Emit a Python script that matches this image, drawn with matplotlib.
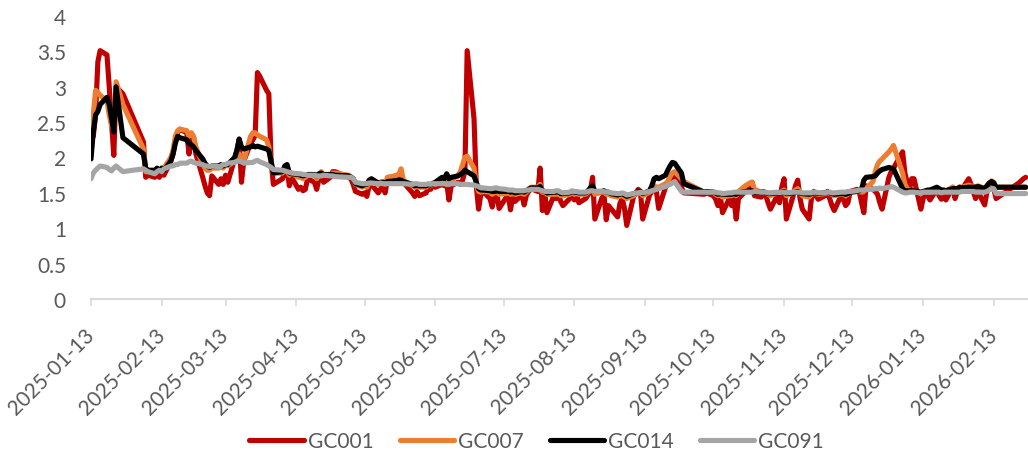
import matplotlib
matplotlib.use('Agg')
import matplotlib.pyplot as plt
import matplotlib.dates as mdates
from matplotlib.ticker import FuncFormatter
import pandas as pd

dates = [
    # Jan - Feb 2025
    '2025-01-13', '2025-01-14', '2025-01-15', '2025-01-16', '2025-01-17', '2025-01-20',
    '2025-01-21', '2025-01-22', '2025-01-23', '2025-01-24', '2025-01-27', '2025-02-05',
    '2025-02-06', '2025-02-07', '2025-02-10', '2025-02-11', '2025-02-12', '2025-02-13',
    '2025-02-14', '2025-02-17', '2025-02-18', '2025-02-19', '2025-02-20', '2025-02-21',
    '2025-02-24', '2025-02-25', '2025-02-26', '2025-02-27', '2025-02-28',
    # Mar - Apr
    '2025-03-03', '2025-03-04', '2025-03-05', '2025-03-06', '2025-03-07', '2025-03-10',
    '2025-03-11', '2025-03-12', '2025-03-13', '2025-03-14', '2025-03-17', '2025-03-18',
    '2025-03-19', '2025-03-20', '2025-03-21', '2025-03-24', '2025-03-25', '2025-03-26',
    '2025-03-27', '2025-03-28', '2025-03-31', '2025-04-01', '2025-04-02', '2025-04-03',
    '2025-04-07', '2025-04-08', '2025-04-09', '2025-04-10', '2025-04-11', '2025-04-14',
    '2025-04-15', '2025-04-16', '2025-04-17', '2025-04-18', '2025-04-21', '2025-04-22',
    '2025-04-23', '2025-04-24', '2025-04-25', '2025-04-28', '2025-04-29', '2025-04-30',
    # May - Jun
    '2025-05-06', '2025-05-07', '2025-05-08', '2025-05-09', '2025-05-12', '2025-05-13',
    '2025-05-14', '2025-05-15', '2025-05-16', '2025-05-19', '2025-05-20', '2025-05-21',
    '2025-05-22', '2025-05-23', '2025-05-26', '2025-05-27', '2025-05-28', '2025-05-29',
    '2025-05-30', '2025-06-03', '2025-06-04', '2025-06-05', '2025-06-06', '2025-06-09',
    '2025-06-10', '2025-06-11', '2025-06-12', '2025-06-13', '2025-06-16', '2025-06-17',
    '2025-06-18', '2025-06-19', '2025-06-20', '2025-06-23', '2025-06-24', '2025-06-25',
    '2025-06-26', '2025-06-27', '2025-06-30',
    # Jul - Aug
    '2025-07-01', '2025-07-02', '2025-07-03', '2025-07-04', '2025-07-07', '2025-07-08',
    '2025-07-09', '2025-07-10', '2025-07-11', '2025-07-14', '2025-07-15', '2025-07-16',
    '2025-07-17', '2025-07-18', '2025-07-21', '2025-07-22', '2025-07-23', '2025-07-24',
    '2025-07-25', '2025-07-28', '2025-07-29', '2025-07-30', '2025-07-31', '2025-08-01',
    '2025-08-04', '2025-08-05', '2025-08-06', '2025-08-07', '2025-08-08', '2025-08-11',
    '2025-08-12', '2025-08-13', '2025-08-14', '2025-08-15', '2025-08-18', '2025-08-19',
    '2025-08-20', '2025-08-21', '2025-08-22', '2025-08-25', '2025-08-26', '2025-08-27',
    '2025-08-28', '2025-08-29',
    # Sep - Oct
    '2025-09-01', '2025-09-02', '2025-09-03', '2025-09-04', '2025-09-05', '2025-09-08',
    '2025-09-09', '2025-09-10', '2025-09-11', '2025-09-12', '2025-09-15', '2025-09-16',
    '2025-09-17', '2025-09-18', '2025-09-19', '2025-09-22', '2025-09-23', '2025-09-24',
    '2025-09-25', '2025-09-26', '2025-09-29', '2025-09-30', '2025-10-09', '2025-10-10',
    '2025-10-13', '2025-10-14', '2025-10-15', '2025-10-16', '2025-10-17', '2025-10-20',
    '2025-10-21', '2025-10-22', '2025-10-23', '2025-10-24', '2025-10-27', '2025-10-28',
    '2025-10-29', '2025-10-30', '2025-10-31',
    # Nov - Dec
    '2025-11-03', '2025-11-04', '2025-11-05', '2025-11-06', '2025-11-07', '2025-11-10',
    '2025-11-11', '2025-11-12', '2025-11-13', '2025-11-14', '2025-11-17', '2025-11-18',
    '2025-11-19', '2025-11-20', '2025-11-21', '2025-11-24', '2025-11-25', '2025-11-26',
    '2025-11-27', '2025-11-28', '2025-12-01', '2025-12-02', '2025-12-03', '2025-12-04',
    '2025-12-05', '2025-12-08', '2025-12-09', '2025-12-10', '2025-12-11', '2025-12-12',
    '2025-12-15', '2025-12-16', '2025-12-17', '2025-12-18', '2025-12-19', '2025-12-22',
    '2025-12-23', '2025-12-24', '2025-12-25', '2025-12-26', '2025-12-29', '2025-12-30',
    '2025-12-31',
    # Jan - Feb 2026
    '2026-01-04', '2026-01-05', '2026-01-06', '2026-01-07', '2026-01-08', '2026-01-09',
    '2026-01-12', '2026-01-13', '2026-01-14', '2026-01-15', '2026-01-16', '2026-01-19',
    '2026-01-20', '2026-01-21', '2026-01-22', '2026-01-23', '2026-01-26', '2026-01-27',
    '2026-01-28', '2026-01-29', '2026-01-30', '2026-02-02', '2026-02-03', '2026-02-04',
    '2026-02-05', '2026-02-06', '2026-02-09', '2026-02-10', '2026-02-11', '2026-02-12',
    '2026-02-13', '2026-02-14', '2026-02-24', '2026-02-25', '2026-02-26', '2026-02-27',
]

gc001 = [
    2.60, 2.30, 2.60, 3.35, 3.51, 3.45, 3.00, 2.50, 2.03, 3.00, 2.90, 2.22,
    1.72, 1.75, 1.72, 1.80, 1.72, 1.78, 1.75, 1.95, 2.05, 2.25, 2.35, 2.40,
    2.35, 2.05, 2.30, 2.28, 2.05,
    1.72, 1.60, 1.50, 1.46, 1.74, 1.62, 1.70, 1.62, 1.75, 1.65, 1.98, 2.10,
    2.26, 1.65, 1.95, 2.20, 2.25, 2.31, 3.20, 3.15, 2.95, 2.90, 1.95, 1.62,
    1.70, 1.80, 1.85, 1.60, 1.72, 1.55, 1.58, 1.53, 1.55, 1.70, 1.65, 1.55,
    1.70, 1.78, 1.65, 1.72, 1.80, 1.80,
    1.72, 1.70, 1.62, 1.52, 1.48, 1.50, 1.45, 1.60, 1.62, 1.50, 1.55, 1.62,
    1.50, 1.68, 1.68, 1.70, 1.72, 1.75, 1.65, 1.50, 1.45, 1.52, 1.46, 1.50,
    1.58, 1.55, 1.62, 1.58, 1.62, 1.60, 1.65, 1.40, 1.60, 1.65, 1.62, 1.68,
    1.80, 3.51, 2.55,
    1.60, 1.27, 1.48, 1.52, 1.42, 1.30, 1.47, 1.50, 1.28, 1.43, 1.48, 1.26,
    1.45, 1.38, 1.47, 1.33, 1.47, 1.52, 1.56, 1.52, 1.85, 1.25, 1.52, 1.22,
    1.46, 1.42, 1.49, 1.38, 1.32, 1.42, 1.47, 1.40, 1.47, 1.36, 1.42, 1.47,
    1.52, 1.72, 1.13, 1.42, 1.47, 1.12, 1.32, 1.28,
    1.16, 1.35, 1.42, 1.28, 1.04, 1.45, 1.49, 1.55, 1.52, 1.13, 1.47, 1.52,
    1.58, 1.52, 1.28, 1.58, 1.62, 1.68, 1.70, 1.74, 1.58, 1.50, 1.48, 1.50,
    1.46, 1.41, 1.32, 1.46, 1.22, 1.42, 1.32, 1.42, 1.13, 1.42, 1.52, 1.52,
    1.58, 1.65, 1.46,
    1.44, 1.52, 1.46, 1.36, 1.27, 1.46, 1.36, 1.58, 1.70, 1.13, 1.46, 1.60,
    1.68, 1.42, 1.27, 1.13, 1.42, 1.52, 1.46, 1.41, 1.46, 1.52, 1.42, 1.32,
    1.25, 1.46, 1.41, 1.32, 1.36, 1.52, 1.55, 1.52, 1.36, 1.22, 1.60, 1.55,
    1.52, 1.48, 1.36, 1.27, 1.72, 1.80, 1.85,
    2.08, 1.78, 1.65, 1.55, 1.70, 1.70, 1.27, 1.42, 1.52, 1.46, 1.40, 1.55,
    1.46, 1.41, 1.46, 1.40, 1.58, 1.42, 1.52, 1.58, 1.55, 1.70, 1.62, 1.52,
    1.42, 1.52, 1.33, 1.52, 1.60, 1.65, 1.56, 1.42, 1.64, 1.67, 1.70, 1.72,
]

gc007 = [
    2.45, 2.60, 2.95, 2.92, 2.88, 2.80, 2.60, 2.45, 2.40, 3.07, 2.75, 2.12,
    1.80, 1.80, 1.78, 1.82, 1.80, 1.85, 1.85, 2.00, 2.10, 2.30, 2.38, 2.40,
    2.38, 2.30, 2.35, 2.30, 2.15,
    1.90, 1.85, 1.82, 1.82, 1.85, 1.85, 1.88, 1.85, 1.90, 1.88, 1.95, 2.00,
    2.05, 1.95, 1.95, 2.30, 2.35, 2.35, 2.32, 2.30, 2.25, 2.15, 1.90, 1.78,
    1.78, 1.85, 1.85, 1.75, 1.78, 1.72, 1.73, 1.70, 1.72, 1.75, 1.75, 1.70,
    1.76, 1.80, 1.75, 1.76, 1.78, 1.78,
    1.75, 1.73, 1.70, 1.62, 1.58, 1.60, 1.58, 1.65, 1.65, 1.62, 1.64, 1.66,
    1.62, 1.72, 1.74, 1.75, 1.76, 1.84, 1.68, 1.60, 1.58, 1.60, 1.58, 1.58,
    1.62, 1.60, 1.64, 1.62, 1.66, 1.68, 1.70, 1.65, 1.68, 1.75, 1.80, 1.90,
    2.00, 2.02, 1.85,
    1.62, 1.52, 1.51, 1.52, 1.51, 1.48, 1.50, 1.51, 1.48, 1.49, 1.51, 1.48,
    1.49, 1.48, 1.50, 1.48, 1.51, 1.56, 1.58, 1.58, 1.62, 1.51, 1.51, 1.48,
    1.48, 1.48, 1.49, 1.46, 1.46, 1.48, 1.51, 1.48, 1.49, 1.48, 1.48, 1.51,
    1.54, 1.58, 1.48, 1.51, 1.52, 1.48, 1.49, 1.46,
    1.44, 1.46, 1.46, 1.44, 1.42, 1.46, 1.48, 1.51, 1.50, 1.46, 1.51, 1.55,
    1.60, 1.58, 1.58, 1.63, 1.66, 1.73, 1.78, 1.80, 1.70, 1.66, 1.51, 1.51,
    1.51, 1.48, 1.46, 1.48, 1.44, 1.46, 1.46, 1.48, 1.46, 1.52, 1.60, 1.62,
    1.64, 1.65, 1.55,
    1.51, 1.51, 1.50, 1.48, 1.46, 1.50, 1.49, 1.52, 1.54, 1.46, 1.51, 1.54,
    1.56, 1.51, 1.46, 1.44, 1.48, 1.50, 1.49, 1.48, 1.49, 1.51, 1.49, 1.48,
    1.46, 1.48, 1.48, 1.46, 1.48, 1.51, 1.52, 1.52, 1.51, 1.52, 1.56, 1.66,
    1.80, 1.90, 1.95, 1.98, 2.08, 2.12, 2.17,
    1.78, 1.62, 1.56, 1.54, 1.54, 1.53, 1.49, 1.51, 1.52, 1.51, 1.51, 1.56,
    1.54, 1.53, 1.54, 1.53, 1.58, 1.56, 1.56, 1.58, 1.58, 1.61, 1.60, 1.59,
    1.58, 1.60, 1.56, 1.60, 1.63, 1.67, 1.65, 1.58, 1.58, 1.58, 1.58, 1.58,
]

gc014 = [
    1.98, 2.36, 2.60, 2.65, 2.75, 2.85, 2.75, 2.55, 2.36, 3.00, 2.28, 2.05,
    1.85, 1.82, 1.82, 1.85, 1.80, 1.85, 1.82, 1.95, 2.05, 2.20, 2.30, 2.28,
    2.25, 2.20, 2.18, 2.15, 2.10,
    1.98, 1.92, 1.88, 1.86, 1.88, 1.88, 1.90, 1.88, 1.90, 1.90, 2.00, 2.10,
    2.26, 2.15, 2.12, 2.15, 2.17, 2.15, 2.16, 2.15, 2.12, 2.10, 1.95, 1.78,
    1.80, 1.88, 1.90, 1.78, 1.77, 1.76, 1.75, 1.74, 1.75, 1.76, 1.76, 1.74,
    1.77, 1.78, 1.76, 1.76, 1.76, 1.75,
    1.74, 1.72, 1.70, 1.63, 1.60, 1.62, 1.62, 1.68, 1.70, 1.64, 1.65, 1.65,
    1.63, 1.66, 1.67, 1.67, 1.68, 1.68, 1.66, 1.62, 1.60, 1.61, 1.60, 1.60,
    1.62, 1.61, 1.63, 1.65, 1.72, 1.70, 1.77, 1.70, 1.72, 1.74, 1.76, 1.78,
    1.82, 1.80, 1.74,
    1.65, 1.56, 1.54, 1.54, 1.53, 1.52, 1.52, 1.53, 1.52, 1.52, 1.53, 1.51,
    1.52, 1.50, 1.52, 1.51, 1.53, 1.55, 1.57, 1.57, 1.59, 1.53, 1.52, 1.50,
    1.51, 1.51, 1.52, 1.49, 1.49, 1.50, 1.52, 1.51, 1.51, 1.50, 1.50, 1.53,
    1.57, 1.60, 1.52, 1.52, 1.53, 1.51, 1.51, 1.49,
    1.47, 1.48, 1.49, 1.47, 1.45, 1.49, 1.50, 1.52, 1.52, 1.49, 1.53, 1.60,
    1.70, 1.72, 1.70, 1.75, 1.82, 1.88, 1.93, 1.92, 1.78, 1.63, 1.51, 1.52,
    1.51, 1.50, 1.48, 1.49, 1.48, 1.48, 1.48, 1.49, 1.48, 1.50, 1.52, 1.52,
    1.53, 1.53, 1.51,
    1.51, 1.51, 1.50, 1.49, 1.49, 1.50, 1.49, 1.51, 1.52, 1.49, 1.50, 1.51,
    1.52, 1.50, 1.49, 1.48, 1.49, 1.50, 1.50, 1.49, 1.50, 1.51, 1.50, 1.49,
    1.48, 1.49, 1.49, 1.48, 1.49, 1.51, 1.52, 1.53, 1.55, 1.68, 1.72, 1.73,
    1.74, 1.78, 1.81, 1.83, 1.86, 1.85, 1.84,
    1.56, 1.53, 1.53, 1.53, 1.54, 1.53, 1.51, 1.52, 1.53, 1.54, 1.54, 1.58,
    1.56, 1.54, 1.54, 1.53, 1.56, 1.56, 1.56, 1.58, 1.57, 1.58, 1.58, 1.58,
    1.58, 1.59, 1.56, 1.60, 1.64, 1.66, 1.64, 1.58, 1.58, 1.58, 1.58, 1.58,
]

gc091 = [
    1.70, 1.78, 1.82, 1.85, 1.88, 1.86, 1.83, 1.81, 1.85, 1.88, 1.80, 1.84,
    1.82, 1.80, 1.77, 1.80, 1.82, 1.80, 1.84, 1.88, 1.88, 1.90, 1.90, 1.92,
    1.92, 1.94, 1.95, 1.93, 1.92,
    1.90, 1.88, 1.88, 1.87, 1.88, 1.87, 1.88, 1.90, 1.90, 1.92, 1.93, 1.95,
    1.95, 1.94, 1.92, 1.93, 1.93, 1.95, 1.96, 1.94, 1.90, 1.88, 1.86, 1.83,
    1.82, 1.81, 1.80, 1.79, 1.78, 1.77, 1.77, 1.76, 1.76, 1.75, 1.75, 1.74,
    1.74, 1.74, 1.75, 1.74, 1.74, 1.73,
    1.72, 1.72, 1.70, 1.65, 1.63, 1.63, 1.63, 1.64, 1.64, 1.63, 1.64, 1.63,
    1.63, 1.63, 1.63, 1.63, 1.63, 1.63, 1.63, 1.62, 1.63, 1.63, 1.62, 1.62,
    1.63, 1.62, 1.63, 1.63, 1.63, 1.63, 1.62, 1.62, 1.63, 1.63, 1.62, 1.62,
    1.62, 1.62, 1.61,
    1.60, 1.59, 1.57, 1.57, 1.56, 1.56, 1.57, 1.57, 1.56, 1.55, 1.54, 1.54,
    1.54, 1.53, 1.53, 1.53, 1.54, 1.54, 1.55, 1.55, 1.54, 1.53, 1.52, 1.52,
    1.52, 1.53, 1.53, 1.51, 1.50, 1.51, 1.53, 1.52, 1.52, 1.51, 1.51, 1.52,
    1.53, 1.53, 1.52, 1.52, 1.52, 1.51, 1.51, 1.50,
    1.49, 1.49, 1.50, 1.49, 1.47, 1.49, 1.50, 1.50, 1.51, 1.50, 1.52, 1.53,
    1.54, 1.55, 1.56, 1.59, 1.61, 1.62, 1.64, 1.66, 1.52, 1.51, 1.51, 1.51,
    1.51, 1.51, 1.50, 1.50, 1.49, 1.50, 1.50, 1.51, 1.51, 1.51, 1.51, 1.51,
    1.51, 1.51, 1.52,
    1.51, 1.51, 1.51, 1.50, 1.50, 1.51, 1.50, 1.51, 1.51, 1.50, 1.51, 1.51,
    1.51, 1.51, 1.50, 1.50, 1.50, 1.51, 1.51, 1.50, 1.50, 1.51, 1.51, 1.50,
    1.50, 1.51, 1.51, 1.51, 1.52, 1.52, 1.53, 1.54, 1.54, 1.54, 1.55, 1.55,
    1.56, 1.56, 1.57, 1.56, 1.58, 1.59, 1.58,
    1.51, 1.50, 1.50, 1.51, 1.51, 1.51, 1.50, 1.51, 1.51, 1.51, 1.51, 1.51,
    1.51, 1.50, 1.51, 1.51, 1.51, 1.51, 1.51, 1.51, 1.52, 1.52, 1.52, 1.52,
    1.51, 1.51, 1.51, 1.52, 1.54, 1.56, 1.56, 1.49, 1.49, 1.49, 1.49, 1.49,
]

tick_dates = [
    '2025-01-13', '2025-02-13', '2025-03-13', '2025-04-13', '2025-05-13', '2025-06-13',
    '2025-07-13', '2025-08-13', '2025-09-13', '2025-10-13', '2025-11-13', '2025-12-13',
    '2026-01-13', '2026-02-13',
]

series_names = ['GC001', 'GC007', 'GC014', 'GC091']
colors = ['#C00000', '#ED7D31', '#000000', '#A5A5A5']

plt.rcParams['font.family'] = ['Lato', 'DejaVu Sans']
text_color = '#595959'
axis_color = '#D9D9D9'

x = pd.to_datetime(dates)

fig = plt.figure(figsize=(10.28, 4.52), dpi=100)
ax = fig.add_axes([91 / 1028, 152 / 452, 937 / 1028, 283 / 452])

for name, vals, c in zip(series_names, [gc001, gc007, gc014, gc091], colors):
    ax.plot(x, vals, color=c, lw=3.7, label=name,
            solid_joinstyle='round', solid_capstyle='round')

ax.set_ylim(0, 4)
ax.set_yticks([0, 0.5, 1, 1.5, 2, 2.5, 3, 3.5, 4])
ax.yaxis.set_major_formatter(FuncFormatter(lambda v, p: '%g' % v))
ax.set_xlim(pd.Timestamp('2025-01-13'), pd.Timestamp('2026-02-28'))
ax.set_xticks(pd.to_datetime(tick_dates))
ax.xaxis.set_major_formatter(mdates.DateFormatter('%Y-%m-%d'))

for s in ['top', 'right', 'left']:
    ax.spines[s].set_visible(False)
ax.spines['bottom'].set_color(axis_color)
ax.spines['bottom'].set_linewidth(1.5)

ax.tick_params(axis='y', length=0, pad=18, labelsize=15, labelcolor=text_color)
ax.tick_params(axis='x', direction='out', length=5, width=1.2, color=axis_color,
               pad=18, labelsize=15, labelcolor=text_color)
for lab in ax.get_xticklabels():
    lab.set_rotation(45)
    lab.set_ha('right')
    lab.set_va('center')
    lab.set_rotation_mode('anchor')

leg = fig.legend(loc='center', bbox_to_anchor=(0.522, 0.022), ncol=4, frameon=False,
                 fontsize=15, handlelength=2.6, handletextpad=0.2, columnspacing=1.25,
                 labelcolor=text_color)
for h in leg.get_lines():
    h.set_linewidth(3.7)

fig.savefig('out.png', dpi=100)
